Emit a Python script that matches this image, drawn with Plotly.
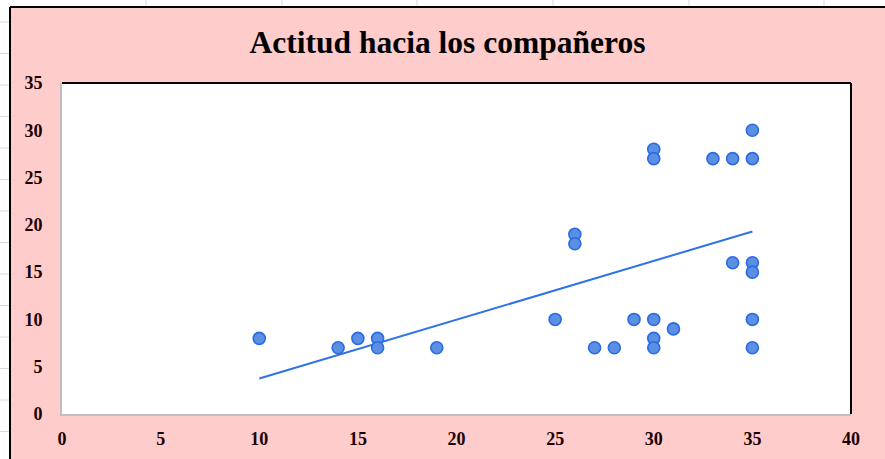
import plotly.graph_objects as go

# ---- data ----
x_vals = [10, 14, 15, 16, 16, 19, 25, 26, 26, 27, 28, 29, 30, 30, 30, 30, 30,
          31, 33, 34, 34, 35, 35, 35, 35, 35, 35]
y_vals = [8, 7, 8, 8, 7, 7, 10, 19, 18, 7, 7, 10, 28, 27, 10, 8, 7,
          9, 27, 27, 16, 30, 27, 16, 15, 10, 7]
trend_x = [10, 35]
trend_y = [3.75, 19.3]
x_ticks = [0, 5, 10, 15, 20, 25, 30, 35, 40]
y_ticks = [0, 5, 10, 15, 20, 25, 30, 35]
title_text = "Actitud hacia los compañeros"

# ---- layout geometry (pixels) ----
W_FIG, H_FIG = 885, 459
L, R, T, B = 62, 851, 83, 414
PW, PH = R - L, B - T


def px(xp):
    return (xp - L) / PW


def py(yp):
    return (B - yp) / PH


PINK = "#FFCCCC"
SERIF = "Liberation Serif, Times New Roman, serif"

fig = go.Figure()
fig.add_trace(go.Scatter(
    x=trend_x, y=trend_y, mode="lines",
    line=dict(color="#2E73E8", width=2), hoverinfo="skip", showlegend=False))
fig.add_trace(go.Scatter(
    x=x_vals, y=y_vals, mode="markers",
    marker=dict(symbol="circle", size=12, color="#5B8FE2",
                line=dict(color="#2A6AE6", width=1.6)),
    showlegend=False))

shapes = []
# white strips (spreadsheet background) at top and left
shapes.append(dict(type="rect", xref="paper", yref="paper",
                   x0=px(-5), x1=px(W_FIG + 5), y0=py(7), y1=py(-5),
                   fillcolor="white", line=dict(width=0), layer="below"))
shapes.append(dict(type="rect", xref="paper", yref="paper",
                   x0=px(-5), x1=px(10), y0=py(H_FIG + 5), y1=py(-5),
                   fillcolor="white", line=dict(width=0), layer="below"))
# faint spreadsheet grid lines
for cx in [146, 282, 417, 553, 689, 824]:
    shapes.append(dict(type="line", xref="paper", yref="paper",
                       x0=px(cx), x1=px(cx), y0=py(0), y1=py(6),
                       line=dict(color="#D8D8D8", width=1), layer="below"))
for k in range(14):
    ry = 22 + 31.5 * k
    shapes.append(dict(type="line", xref="paper", yref="paper",
                       x0=px(0), x1=px(9), y0=py(ry), y1=py(ry),
                       line=dict(color="#D8D8D8", width=1), layer="below"))
# chart-area black border (top, left)
shapes.append(dict(type="line", xref="paper", yref="paper",
                   x0=px(10), x1=px(W_FIG + 5), y0=py(7), y1=py(7),
                   line=dict(color="black", width=2)))
shapes.append(dict(type="line", xref="paper", yref="paper",
                   x0=px(10), x1=px(10), y0=py(7), y1=py(H_FIG + 5),
                   line=dict(color="black", width=2)))
# plot-area border: top and right black
shapes.append(dict(type="line", xref="paper", yref="paper",
                   x0=0, x1=1, y0=1, y1=1, line=dict(color="black", width=2)))
shapes.append(dict(type="line", xref="paper", yref="paper",
                   x0=1, x1=1, y0=0, y1=1, line=dict(color="black", width=2)))

tickfont = dict(family=SERIF, size=18, color="#1A0000")

fig.update_layout(
    width=W_FIG, height=H_FIG,
    margin=dict(l=L, r=W_FIG - R, t=T, b=H_FIG - B, pad=0, autoexpand=False),
    paper_bgcolor=PINK, plot_bgcolor="white",
    title=dict(text="<b>" + title_text + "</b>", x=447.5 / W_FIG,
               xref="container", xanchor="center",
               y=1 - 42 / H_FIG, yref="container", yanchor="middle",
               font=dict(family=SERIF, size=31.5, color="#000000")),
    xaxis=dict(range=[0, 40], tickvals=x_ticks,
               ticktext=["<b>%d</b>" % v for v in x_ticks],
               showgrid=False, zeroline=False, showline=True,
               linecolor="#BFBFBF", linewidth=2, ticks="",
               tickfont=tickfont, ticklabelstandoff=7, automargin=False,
               fixedrange=True),
    yaxis=dict(range=[0, 35], tickvals=y_ticks,
               ticktext=["<b>%d</b>" % v for v in y_ticks],
               showgrid=False, zeroline=False, showline=True,
               linecolor="#BFBFBF", linewidth=2, ticks="",
               tickfont=tickfont, ticklabelstandoff=14, automargin=False,
               fixedrange=True),
    shapes=shapes,
    showlegend=False,
)

fig.write_html(
    "out.html",
    config={"displayModeBar": False},
    post_script="document.body.style.margin='0';document.body.style.padding='0';",
)
